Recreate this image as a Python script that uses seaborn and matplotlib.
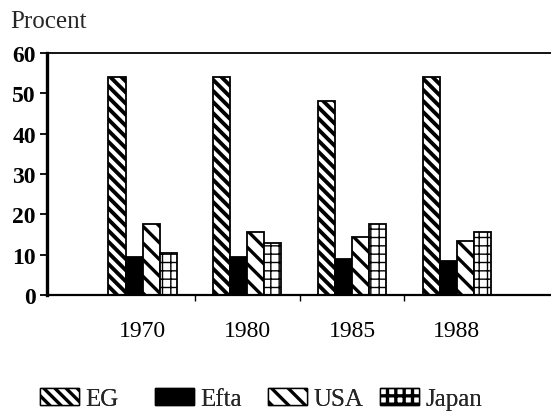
import matplotlib
matplotlib.use("Agg")
import matplotlib.pyplot as plt
import seaborn as sns
import pandas as pd
from matplotlib.patches import Patch

years = ["1970", "1980", "1985", "1988"]
series = ["EG", "Efta", "USA", "Japan"]
eg = [54, 54, 48, 54]
efta = [9.5, 9.5, 9, 8.5]
usa = [17.5, 15.5, 14.5, 13.5]
japan = [10.5, 13, 17.5, 15.5]
yticks = [0, 10, 20, 30, 40, 50, 60]

rows = []
for name, vals in zip(series, [eg, efta, usa, japan]):
    for y, v in zip(years, vals):
        rows.append({"year": y, "series": name, "value": v})
df = pd.DataFrame(rows)

sns.set_theme(style="white")
plt.rcParams["font.family"] = ["Liberation Serif", "DejaVu Serif"]
plt.rcParams["hatch.linewidth"] = 2.4

fig = plt.figure(figsize=(5.51, 4.14), dpi=100)
ax = fig.add_axes([47 / 551, 118 / 414, 504 / 551, 242 / 414])

styles = {
    "EG": dict(face="white", hatch="\\\\\\", hlw=2.8),
    "Efta": dict(face="black", hatch="", hlw=1.0),
    "USA": dict(face="white", hatch="\\\\", hlw=2.4),
    "Japan": dict(face="white", hatch="++", hlw=1.0),
}

sns.barplot(data=df, x="year", y="value", hue="series", order=years,
            hue_order=series, palette=["white"] * 4, width=0.65,
            edgecolor="black", linewidth=1.3, ax=ax, legend=False)

def style_patch(p, name):
    p.set_facecolor(styles[name]["face"])
    p.set_hatch(styles[name]["hatch"])
    p.set_edgecolor("black")
    try:
        p.set_hatch_linewidth(styles[name]["hlw"])
    except Exception:
        pass

for cont, name in zip(ax.containers, series):
    for p in cont.patches:
        style_patch(p, name)

ax.set_ylim(0, 60)
ax.set_xlim(-0.912, 3.90)
ax.set_yticks(yticks)
ax.set_yticklabels([str(t) for t in yticks], fontsize=17, fontweight="bold")
ax.tick_params(axis="y", left=True, length=5, width=1.3, pad=3, colors="black")
ax.set_xticks([0.5, 1.5, 2.5], minor=True)
ax.tick_params(axis="x", which="major", bottom=False, pad=12, labelsize=17,
               colors="black")
ax.tick_params(axis="x", which="minor", bottom=True, length=4, width=1.0,
               direction="out", colors="black")
ax.set_xlabel("")
ax.set_ylabel("")
for s, lw in [("left", 2.4), ("bottom", 1.6), ("top", 1.3)]:
    ax.spines[s].set_visible(True)
    ax.spines[s].set_color("black")
    ax.spines[s].set_linewidth(lw)
ax.spines["right"].set_visible(False)

fig.text(10 / 551, 1 - 22 / 414, "Procent", fontsize=18, ha="left", va="center")

# one legend entry per series, each placed where the reference shows it
legend_x = [40, 155, 268, 380]
for n, lx in zip(series, legend_x):
    h = Patch(facecolor=styles[n]["face"], edgecolor="black",
              hatch=styles[n]["hatch"], label=n)
    try:
        h.set_hatch_linewidth(styles[n]["hlw"])
    except Exception:
        pass
    leg = fig.legend(handles=[h], loc="center left",
                     bbox_to_anchor=(lx / 551, 14 / 414), frameon=False,
                     fontsize=18, handlelength=1.55, handleheight=0.7,
                     handletextpad=0.25, borderpad=0, borderaxespad=0)
    fig.add_artist(leg)

fig.savefig("out.png", dpi=100)
